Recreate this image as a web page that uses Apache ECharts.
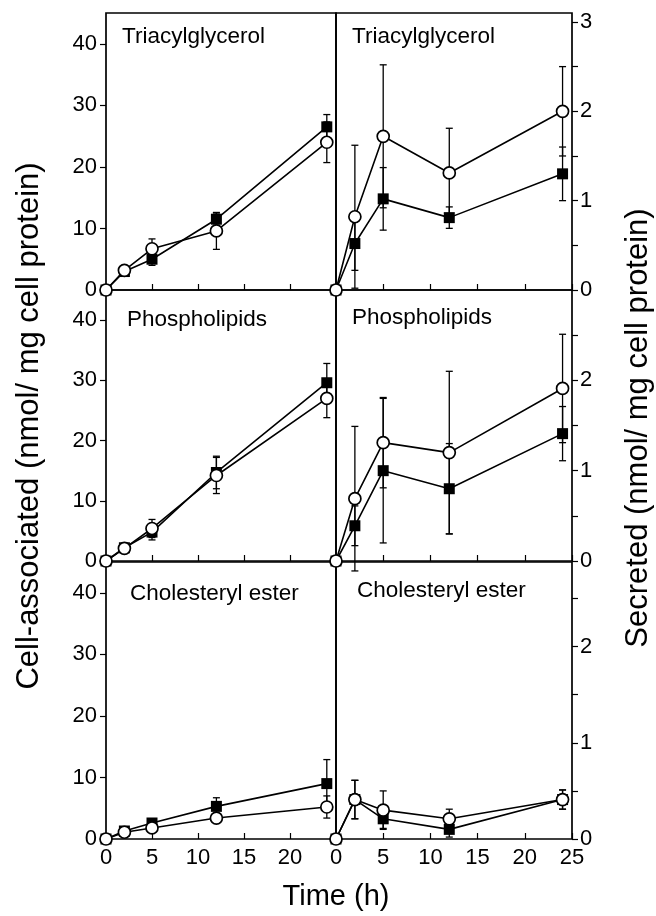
<!DOCTYPE html>
<html><head><meta charset="utf-8">
<script src="https://cdn.jsdelivr.net/npm/echarts@6/dist/echarts.min.js"></script>
<style>html,body{margin:0;padding:0;background:#fff}#c{width:656px;height:916px}</style>
</head><body><div id="c"></div>
<script>
// ---------- data ----------
const hours = [0, 2, 5, 12, 24];
const panelTitles = ['Triacylglycerol', 'Phospholipids', 'Cholesteryl ester'];
const yAxisTitleLeft = 'Cell-associated (nmol/ mg cell protein)';
const yAxisTitleRight = 'Secreted (nmol/ mg cell protein)';
const xAxisTitle = 'Time (h)';

// Cell-associated (left column)
const tagCellSq    = [0, 3.0, 5.0, 11.5, 26.5];
const tagCellSqErr = [0, 0.5, 1.0, 1.0, 2.0];
const tagCellCi    = [0, 3.2, 6.7, 9.6, 24.0];
const tagCellCiErr = [0, 0.5, 1.6, 3.0, 3.3];

const plCellSq    = [0, 2.2, 4.8, 14.7, 29.6];
const plCellSqErr = [0, 0.4, 1.3, 2.7, 3.2];
const plCellCi    = [0, 2.1, 5.4, 14.2, 27.0];
const plCellCiErr = [0, 0.4, 1.5, 3.0, 3.2];

const ceCellSq    = [0, 1.3, 2.6, 5.3, 9.0];
const ceCellSqErr = [0, 0.3, 0.5, 1.4, 3.9];
const ceCellCi    = [0, 1.1, 1.8, 3.4, 5.2];
const ceCellCiErr = [0, 0.3, 0.5, 0.5, 1.8];

// Secreted (right column)
const tagSecSq    = [0, 0.52, 1.02, 0.81, 1.30];
const tagSecSqErr = [0, 0.30, 0.35, 0.12, 0.30];
const tagSecCi    = [0, 0.82, 1.72, 1.31, 2.00];
const tagSecCiErr = [0, 0.80, 0.80, 0.50, 0.50];

const plSecSq    = [0, 0.39, 1.00, 0.80, 1.41];
const plSecSqErr = [0, 0.22, 0.80, 0.50, 0.30];
const plSecCi    = [0, 0.69, 1.31, 1.20, 1.91];
const plSecCiErr = [0, 0.80, 0.50, 0.90, 0.60];

const ceSecSq    = [0, 0.41, 0.21, 0.10, 0.41];
const ceSecSqErr = [0, 0.20, 0.10, 0.08, 0.10];
const ceSecCi    = [0, 0.41, 0.30, 0.21, 0.41];
const ceSecCiErr = [0, 0.20, 0.20, 0.10, 0.10];

const cellMax = 45;
const secMax = [3.1, 3.0, 2.88];

// ---------- layout ----------
const FONT = '"Liberation Sans", Arial, Helvetica, sans-serif';
const rows = [{top: 13, height: 277}, {top: 290, height: 271}, {top: 562, height: 277}];
const cols = [{left: 106, width: 230}, {left: 336, width: 236}];
const titlePos = [
  [[122, 37], [352, 37]],
  [[127, 320], [352, 318]],
  [[130, 594], [357, 591]]
];

const panels = [
  [[tagCellSq, tagCellSqErr, tagCellCi, tagCellCiErr], [tagSecSq, tagSecSqErr, tagSecCi, tagSecCiErr]],
  [[plCellSq, plCellSqErr, plCellCi, plCellCiErr], [plSecSq, plSecSqErr, plSecCi, plSecCiErr]],
  [[ceCellSq, ceCellSqErr, ceCellCi, ceCellCiErr], [ceSecSq, ceSecSqErr, ceSecCi, ceSecCiErr]]
];

function errRender(params, api) {
  const x = api.value(0), y = api.value(1), e = api.value(2);
  if (!e) return null;
  const t = api.coord([x, y + e]);
  const b = api.coord([x, y - e]);
  const w = 3.5;
  const style = {stroke: '#000', lineWidth: 1.3, fill: null};
  return {type: 'group', children: [
    {type: 'line', shape: {x1: t[0], y1: t[1], x2: b[0], y2: b[1]}, style: style},
    {type: 'line', shape: {x1: t[0] - w, y1: t[1], x2: t[0] + w, y2: t[1]}, style: style},
    {type: 'line', shape: {x1: b[0] - w, y1: b[1], x2: b[0] + w, y2: b[1]}, style: style}
  ]};
}

const grids = [], xAxes = [], yAxes = [], series = [], graphics = [];
let idx = 0;
for (let r = 0; r < 3; r++) {
  for (let c = 0; c < 2; c++) {
    grids.push({
      left: cols[c].left, top: rows[r].top, width: cols[c].width, height: rows[r].height,
      show: true, borderColor: '#000', borderWidth: 1.7, backgroundColor: 'transparent'
    });
    const bottomRow = r === 2;
    xAxes.push({
      type: 'value', gridIndex: idx, position: 'bottom', min: 0, max: 25, interval: 5,
      axisLine: {show: false, onZero: false},
      axisTick: {show: true, inside: true, length: 6, lineStyle: {color: '#000', width: 1.2}},
      axisLabel: {
        show: bottomRow, color: '#000', fontSize: 22, fontFamily: FONT, margin: 8,
        showMaxLabel: c === 1, showMinLabel: true
      },
      splitLine: {show: false}
    });
    if (c === 0) {
      yAxes.push({
        type: 'value', gridIndex: idx, position: 'left', min: 0, max: cellMax, interval: 10,
        axisLine: {show: false, onZero: false},
        axisTick: {show: true, inside: false, length: 6, lineStyle: {color: '#000', width: 1.2}},
        axisLabel: {color: '#000', fontSize: 22, fontFamily: FONT, margin: 9, showMaxLabel: false},
        splitLine: {show: false}
      });
    } else {
      yAxes.push({
        type: 'value', gridIndex: idx, position: 'right', min: 0, max: secMax[r], interval: 0.5,
        axisLine: {show: false, onZero: false},
        axisTick: {show: true, inside: false, length: 6, lineStyle: {color: '#000', width: 1.2}},
        axisLabel: {
          color: '#000', fontSize: 22, fontFamily: FONT, margin: 8, showMaxLabel: false,
          formatter: v => (Math.abs(v - Math.round(v)) < 1e-9 ? String(Math.round(v)) : '')
        },
        splitLine: {show: false}
      });
    }
    const [sq, sqErr, ci, ciErr] = panels[r][c];
    series.push({
      type: 'custom', xAxisIndex: idx, yAxisIndex: idx, z: 1, renderItem: errRender,
      data: hours.map((h, i) => [h, sq[i], sqErr[i]]), silent: true
    });
    series.push({
      type: 'custom', xAxisIndex: idx, yAxisIndex: idx, z: 1, renderItem: errRender,
      data: hours.map((h, i) => [h, ci[i], ciErr[i]]), silent: true
    });
    series.push({
      type: 'line', xAxisIndex: idx, yAxisIndex: idx, z: 3,
      data: hours.map((h, i) => [h, sq[i]]),
      symbol: 'rect', symbolSize: 11, showAllSymbol: true,
      lineStyle: {color: '#000', width: 1.6},
      itemStyle: {color: '#000', borderColor: '#000', borderWidth: 0},
      animation: false
    });
    series.push({
      type: 'line', xAxisIndex: idx, yAxisIndex: idx, z: 4,
      data: hours.map((h, i) => [h, ci[i]]),
      symbol: 'circle', symbolSize: 12, showAllSymbol: true,
      lineStyle: {color: '#000', width: 1.6},
      itemStyle: {color: '#fff', borderColor: '#000', borderWidth: 1.7},
      animation: false
    });
    graphics.push({
      type: 'text', x: titlePos[r][c][0], y: titlePos[r][c][1], z: 10,
      style: {text: panelTitles[r], font: '22.5px ' + FONT, fill: '#000', textAlign: 'left', textVerticalAlign: 'middle'}
    });
    idx++;
  }
}

graphics.push({
  type: 'text', x: 29, y: 426, rotation: Math.PI / 2,
  style: {text: yAxisTitleLeft, font: '31px ' + FONT, fill: '#000', textAlign: 'center', textVerticalAlign: 'middle'}
});
graphics.push({
  type: 'text', x: 638, y: 428, rotation: Math.PI / 2,
  style: {text: yAxisTitleRight, font: '31px ' + FONT, fill: '#000', textAlign: 'center', textVerticalAlign: 'middle'}
});
graphics.push({
  type: 'text', x: 336, y: 897,
  style: {text: xAxisTitle, font: '29px ' + FONT, fill: '#000', textAlign: 'center', textVerticalAlign: 'middle'}
});

const chart = echarts.init(document.getElementById('c'), null, {renderer: 'canvas'});
chart.setOption({
  backgroundColor: '#fff',
  animation: false,
  grid: grids, xAxis: xAxes, yAxis: yAxes, series: series, graphic: graphics
});
</script></body></html>
